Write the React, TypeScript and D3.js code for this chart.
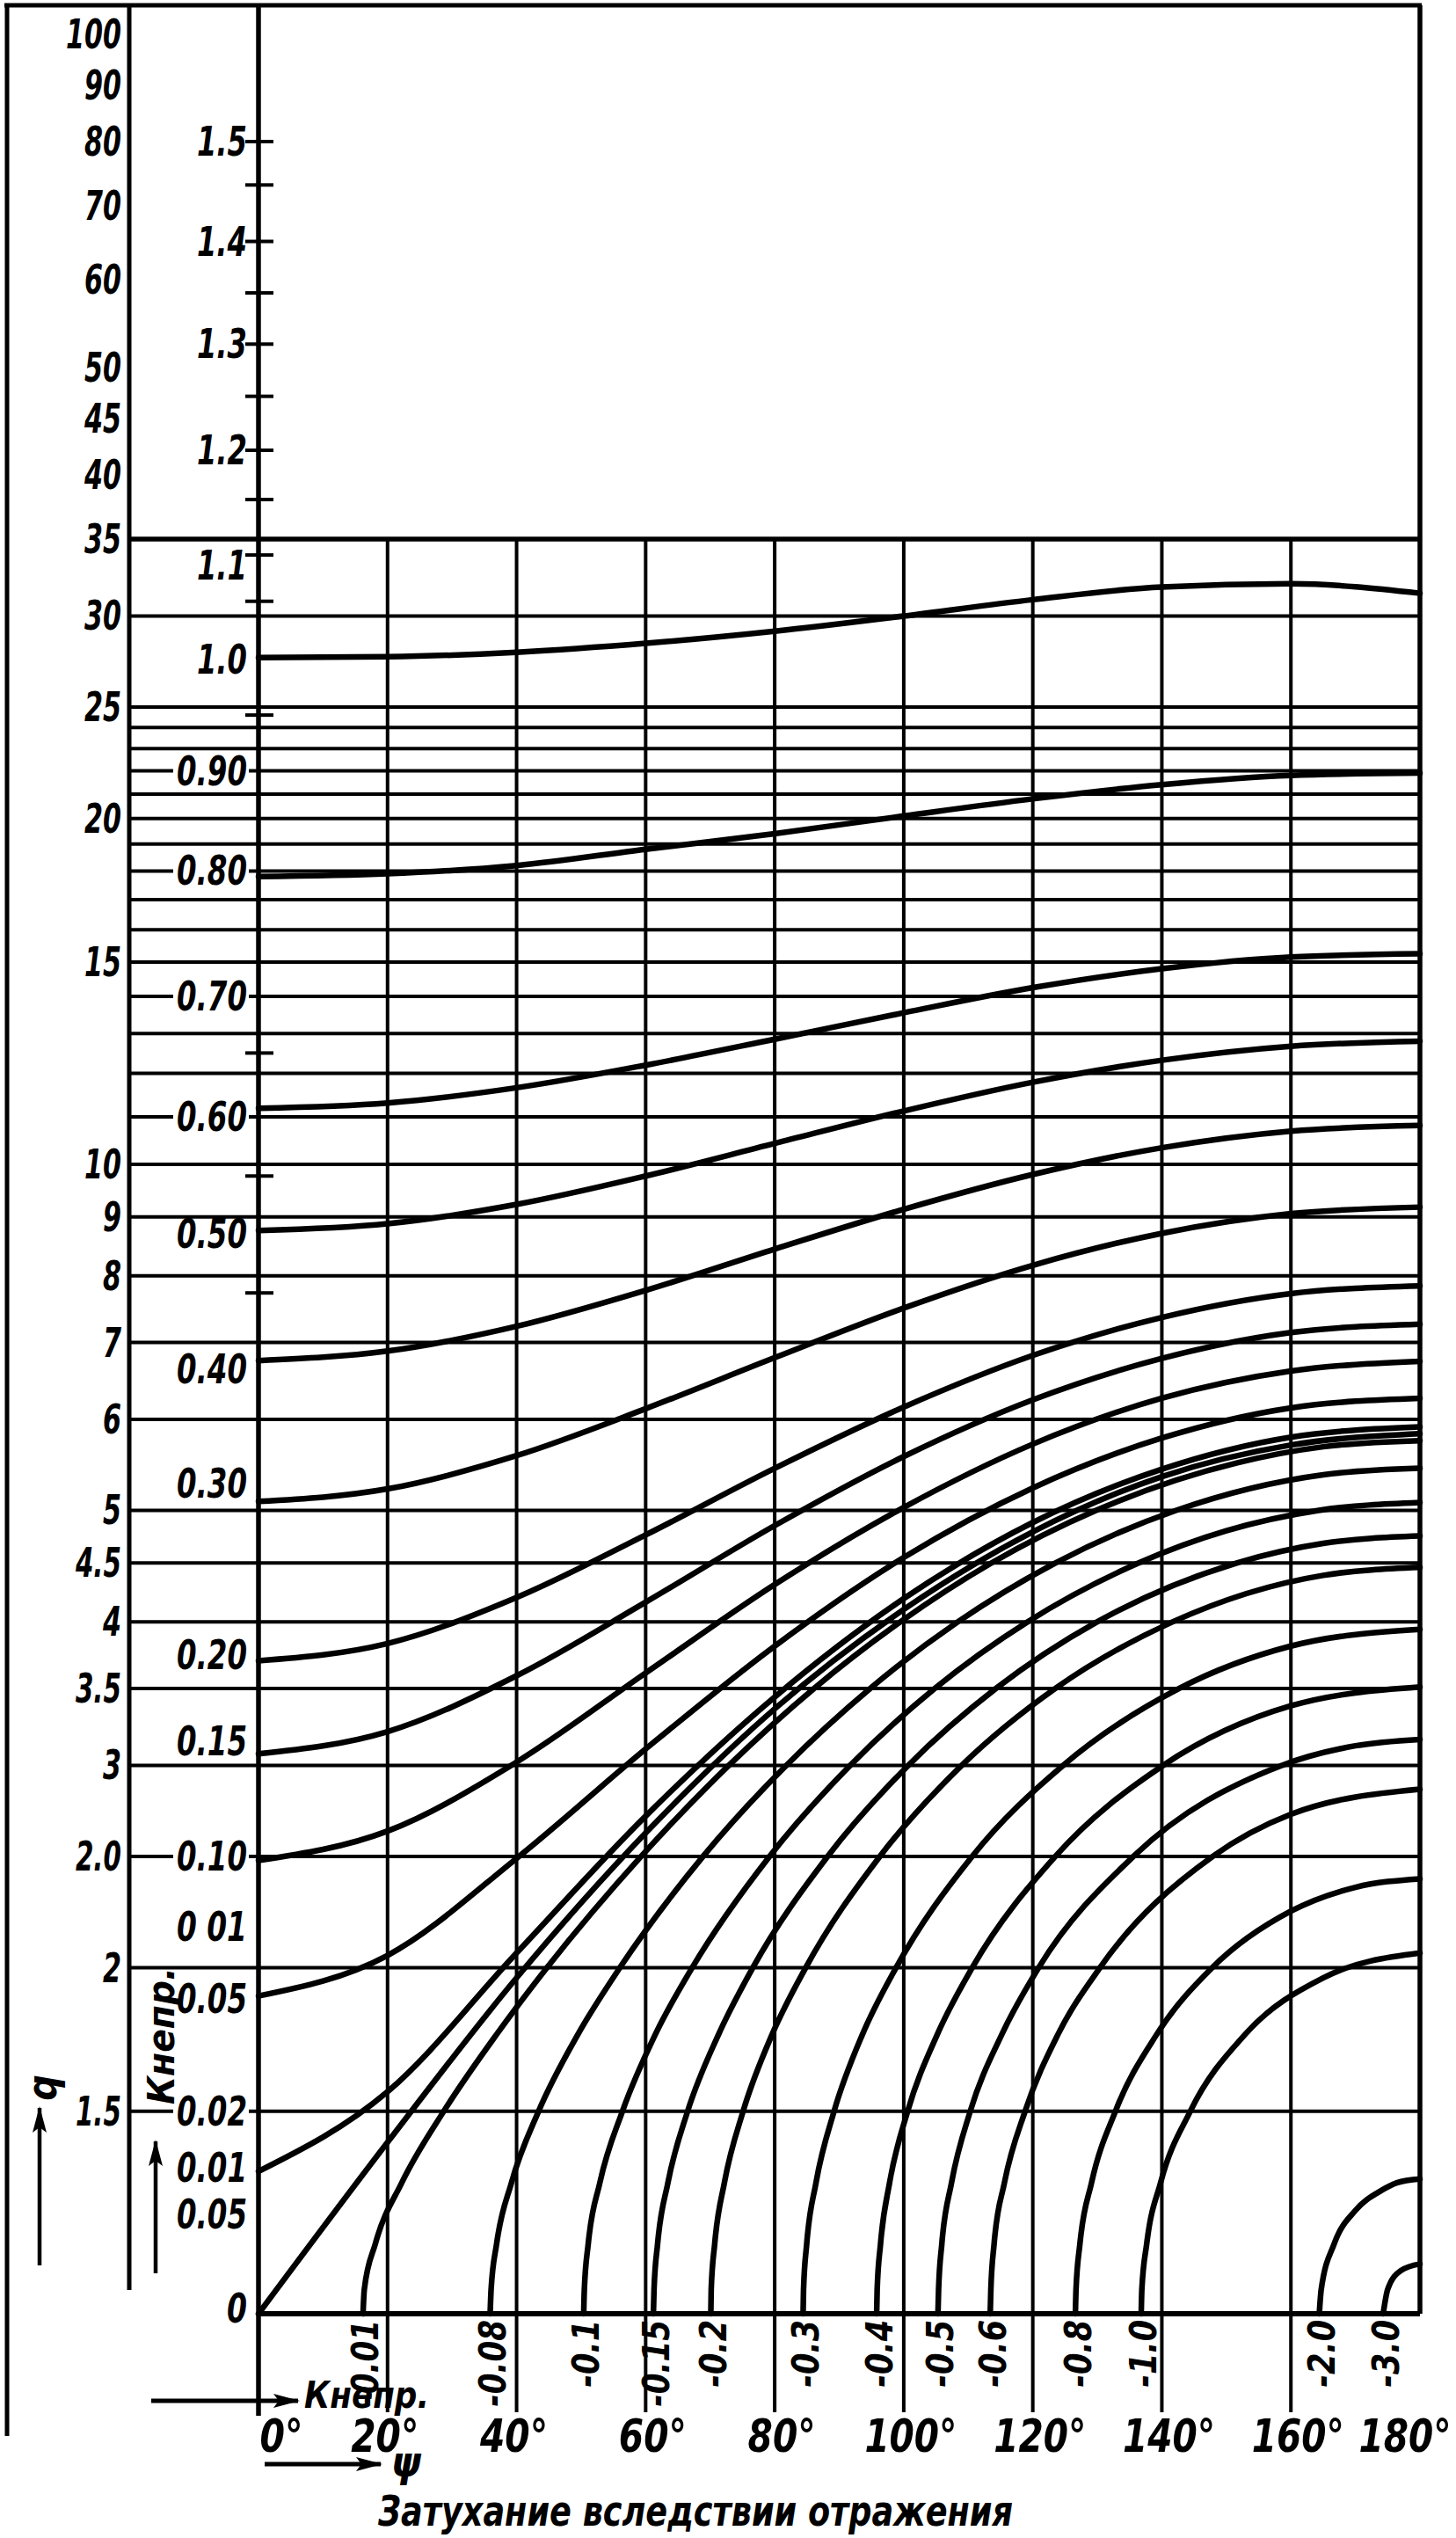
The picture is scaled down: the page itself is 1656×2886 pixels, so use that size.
import * as d3 from "d3";

const W = 1656;
const H = 2886;
const FONT = "'Liberation Sans Narrow', 'DejaVu Sans Condensed', 'Liberation Sans', sans-serif";

// q scale (left, logarithmic)
const qTicks = [100, 90, 80, 70, 60, 50, 45, 40, 35, 30, 25, 20, 15, 10, 9, 8, 7, 6, 5, 4.5, 4, 3.5, 3, 2.5, 2, 1.5];
const qTickLabels = ["100", "90", "80", "70", "60", "50", "45", "40", "35", "30", "25", "20", "15", "10", "9", "8", "7", "6", "5", "4.5", "4", "3.5", "3", "2.0", "2", "1.5"];

// horizontal rulings of the grid (q values)
const gridQ = [35, 30, 25, 24, 23, 22, 21, 20, 19, 18, 17, 16, 15, 14, 13, 12, 11, 10, 9, 8, 7, 6, 5, 4.5, 4, 3.5, 3, 2.5, 2, 1.5];

// phase angle
const phiTicks = [0, 20, 40, 60, 80, 100, 120, 140, 160, 180];

// K непр. scale, written as the q where each mark sits
const kTickQ = [80, 73.1, 65, 58.4, 52.5, 47.1, 42.1, 38, 33.9, 30.9, 24.6, 12.5, 9.77, 7.73];
const kLabels = ["1.5", "1.4", "1.3", "1.2", "1.1", "1.0", "0.90", "0.80", "0.70", "0.60", "0.50", "0.40", "0.30", "0.20", "0.15", "0.10", "0 01", "0.05", "0.02", "0.01", "0.05", "0"];
const kLabelQ = [80, 65, 52.5, 42.1, 33.2, 27.5, 22, 18, 14, 11, 8.7, 6.63, 5.28, 3.74, 3.15, 2.5, 2.17, 1.88, 1.5, 1.34, 1.22, 1.01];

// curves that start on the K axis: q read at every 20°
const q_1_00 = [27.6, 27.65, 27.9, 28.4, 29.1, 30.0, 31.0, 31.8, 32.0, 31.4];
const q_0_80 = [17.8, 17.9, 18.2, 18.8, 19.4, 20.1, 20.8, 21.4, 21.8, 21.9];
const q_0_60 = [11.19, 11.31, 11.66, 12.2, 12.85, 13.55, 14.25, 14.8, 15.15, 15.25];
const q_0_50 = [8.76, 8.88, 9.23, 9.77, 10.43, 11.13, 11.79, 12.32, 12.67, 12.8];
const q_0_40 = [6.75, 6.88, 7.23, 7.77, 8.44, 9.14, 9.8, 10.34, 10.69, 10.81];
const q_0_30 = [5.09, 5.22, 5.58, 6.13, 6.79, 7.5, 8.17, 8.71, 9.06, 9.18];
const q_0_20 = [3.7, 3.83, 4.2, 4.76, 5.44, 6.15, 6.82, 7.36, 7.72, 7.84];
const q_0_15 = [3.07, 3.21, 3.59, 4.16, 4.85, 5.57, 6.24, 6.78, 7.14, 7.26];
const q_0_10 = [2.48, 2.63, 3.02, 3.61, 4.31, 5.03, 5.71, 6.26, 6.61, 6.74];
const q_0_05 = [1.89, 2.05, 2.49, 3.1, 3.81, 4.55, 5.23, 5.78, 6.14, 6.26];
const q_0_01 = [1.33, 1.56, 2.06, 2.71, 3.44, 4.19, 4.88, 5.43, 5.79, 5.91];
const q_0_00 = [1, 1.41, 1.96, 2.62, 3.36, 4.1, 4.79, 5.35, 5.7, 5.83];
const posSeries = [q_1_00, q_0_80, q_0_60, q_0_50, q_0_40, q_0_30, q_0_20, q_0_15, q_0_10, q_0_05, q_0_01, q_0_00];

// curves that rise from the bottom line: [phi, q]
const n_0_01: [number, number][] = [[16.2, 1], [16.4, 1.05], [18.1, 1.15], [22.2, 1.3], [28.7, 1.5], [36.9, 1.75], [44.7, 2], [59.3, 2.5], [72.9, 3], [86.1, 3.5], [99.5, 4], [113.6, 4.5], [129.8, 5], [151.7, 5.5], [165, 5.68], [180, 5.75]];
const n_0_05: [number, number][] = [[35.9, 1], [36.05, 1.05], [36.9, 1.15], [39.2, 1.3], [43.4, 1.5], [49.5, 1.75], [56.0, 2], [68.9, 2.5], [81.8, 3], [94.8, 3.5], [108.4, 4], [123.5, 4.5], [142.2, 5], [165, 5.37], [180, 5.44]];
const n_0_10: [number, number][] = [[50.4, 1], [50.5, 1.05], [51.1, 1.15], [52.9, 1.3], [56.4, 1.5], [61.5, 1.75], [67.2, 2], [79.2, 2.5], [91.7, 3], [104.8, 3.5], [119.2, 4], [136.4, 4.5], [150, 4.8], [164.3, 5], [180, 5.08]];
const n_0_15: [number, number][] = [[61.2, 1], [61.3, 1.05], [61.85, 1.15], [63.45, 1.3], [66.5, 1.5], [71.3, 1.75], [76.6, 2], [88.2, 2.5], [100.7, 3], [114.3, 3.5], [130.0, 4], [151.6, 4.5], [165, 4.68], [180, 4.75]];
const n_0_20: [number, number][] = [[70.1, 1], [70.16, 1.05], [70.7, 1.15], [72.2, 1.3], [75.1, 1.5], [79.6, 1.75], [84.8, 2], [96.3, 2.5], [109.0, 3], [123.5, 3.5], [141.7, 4], [165, 4.39], [180, 4.46]];
const n_0_30: [number, number][] = [[84.4, 1], [84.47, 1.05], [84.96, 1.15], [86.4, 1.3], [89.2, 1.5], [93.6, 1.75], [98.8, 2], [110.6, 2.5], [124.7, 3], [142.7, 3.5], [160, 3.81], [180, 3.94]];
const n_0_40: [number, number][] = [[95.8, 1], [95.88, 1.05], [96.4, 1.15], [97.8, 1.3], [100.6, 1.5], [105.2, 1.75], [110.6, 2], [123.5, 2.5], [140.2, 3], [160, 3.38], [180, 3.51]];
const n_0_50: [number, number][] = [[105.3, 1], [105.4, 1.05], [105.9, 1.15], [107.4, 1.3], [110.3, 1.5], [115.2, 1.75], [120.9, 2], [135.6, 2.5], [158.6, 3], [170, 3.12], [180, 3.16]];
const n_0_60: [number, number][] = [[113.4, 1], [113.5, 1.05], [114.0, 1.15], [115.6, 1.3], [118.8, 1.5], [123.9, 1.75], [130.4, 2], [147.9, 2.5], [160, 2.72], [180, 2.86]];
const n_0_80: [number, number][] = [[126.6, 1], [126.7, 1.05], [127.3, 1.15], [129.1, 1.3], [132.8, 1.5], [139.2, 1.75], [147.8, 2], [160, 2.24], [170, 2.35], [180, 2.39]];
const n_1_0: [number, number][] = [[136.8, 1], [136.9, 1.05], [137.65, 1.15], [139.8, 1.3], [144.4, 1.5], [152.9, 1.75], [165, 1.96], [180, 2.06]];
const n_2_0: [number, number][] = [[164.4, 1], [164.7, 1.05], [166.7, 1.15], [170, 1.23], [174, 1.28], [176.4, 1.3], [180, 1.31]];
const n_3_0: [number, number][] = [[174.3, 1], [175.0, 1.05], [177, 1.09], [180, 1.105]];
const negSeries = [n_0_01, n_0_05, n_0_10, n_0_15, n_0_20, n_0_30, n_0_40, n_0_50, n_0_60, n_0_80, n_1_0, n_2_0, n_3_0];
const negLabels = ["-0.01", "-0.08", "-0.1", "-0.15", "-0.2", "-0.3", "-0.4", "-0.5", "-0.6", "-0.8", "-1.0", "-2.0", "-3.0"];

const title = "Затухание вследствии отражения";

// rough width of the hand-lettered figures
function figW(s: string, digit = 21) {
  let w = 0;
  for (const c of s) w += /[0-9]/.test(c) ? digit : c === "-" ? 22 : c === "°" ? digit * 0.75 : digit * 0.48;
  return w;
}

export default function App() {
  const x = d3.scaleLinear().domain([0, 180]).range([294, 1615]);
  const y = d3.scaleLog().domain([1, 35, 100]).range([2631, 613, 39]);
  const line = d3
    .line<[number, number]>()
    .x((d) => x(d[0]))
    .y((d) => y(d[1]))
    .curve(d3.curveMonotoneX);

  const txt = { fontFamily: FONT, fontStyle: "italic", fontWeight: 700, fill: "#000" } as const;
  const gridSet = new Set(gridQ);
  const GRID = 4;
  const CURVE = 6.5;

  return (
    <svg
      width={W}
      height={H}
      viewBox={`0 0 ${W} ${H}`}
      style={{ position: "absolute", left: 0, top: 0, background: "#fff" }}
    >
      <defs>
        <marker id="arr" viewBox="0 0 30 16" refX="28" refY="8" markerWidth="30" markerHeight="16" markerUnits="userSpaceOnUse" orient="auto">
          <path d="M0,0 L30,8 L0,16 L6,8 Z" fill="#000" />
        </marker>
      </defs>
      <rect width={W} height={H} fill="#fff" />

      {/* frame */}
      <line x1={5} x2={x(180) + 2} y1={6} y2={6} stroke="#000" strokeWidth={5} />
      <line x1={8} x2={8} y1={6} y2={2770} stroke="#000" strokeWidth={5} />
      <line x1={147} x2={147} y1={6} y2={2604} stroke="#000" strokeWidth={5} />
      <line x1={x(180)} x2={x(180)} y1={6} y2={y(1)} stroke="#000" strokeWidth={5.5} />

      {/* horizontal rulings */}
      {gridQ.map((q) => (
        <line key={"h" + q} x1={147} x2={x(180)} y1={y(q)} y2={y(q)} stroke="#000" strokeWidth={q === 35 ? 5.5 : GRID} />
      ))}
      <line x1={x(0)} x2={x(180)} y1={y(1)} y2={y(1)} stroke="#000" strokeWidth={6} />

      {/* vertical rulings */}
      {phiTicks.slice(1, -1).map((p) => (
        <line key={"v" + p} x1={x(p)} x2={x(p)} y1={y(35)} y2={2743} stroke="#000" strokeWidth={GRID} />
      ))}
      <line x1={x(0)} x2={x(0)} y1={6} y2={2747} stroke="#000" strokeWidth={5.5} />

      {/* K axis ticks */}
      {kTickQ.map((q) => (
        <line key={"kt" + q} x1={279} x2={311} y1={y(q)} y2={y(q)} stroke="#000" strokeWidth={4} />
      ))}

      {/* curves */}
      {posSeries.map((s, i) => (
        <path
          key={"p" + i}
          d={line(s.map((q, j) => [phiTicks[j], q] as [number, number])) ?? ""}
          fill="none"
          stroke="#000"
          strokeWidth={CURVE}
          strokeLinecap="round"
        />
      ))}
      {negSeries.map((s, i) => (
        <path key={"n" + i} d={line(s) ?? ""} fill="none" stroke="#000" strokeWidth={CURVE} strokeLinecap="round" />
      ))}

      {/* q labels */}
      {qTicks.map((q, i) => (
        <text
          key={"ql" + i}
          x={138}
          y={y(q)}
          textAnchor="end"
          dominantBaseline="central"
          fontSize={46}
          textLength={figW(qTickLabels[i])}
          lengthAdjust="spacingAndGlyphs"
          {...txt}
        >
          {qTickLabels[i]}
        </text>
      ))}

      {/* K labels (those sitting on a ruling interrupt it) */}
      {kLabels.map((t, i) => {
        const w = figW(t, 23);
        const cut = gridSet.has(kLabelQ[i]);
        return (
          <g key={"kl" + i}>
            {cut && <rect x={281 - w - 4} y={y(kLabelQ[i]) - 5} width={w + 6} height={10} fill="#fff" />}
            <text
              x={281}
              y={y(kLabelQ[i])}
              textAnchor="end"
              dominantBaseline="central"
              fontSize={46}
              textLength={w}
              lengthAdjust="spacingAndGlyphs"
              {...txt}
            >
              {t}
            </text>
          </g>
        );
      })}

      {/* labels of the rising curves */}
      {negSeries.map((s, i) => (
        <text
          key={"nl" + i}
          transform={`translate(${x(s[0][0]) + 3},2638) rotate(-90)`}
          textAnchor="end"
          dominantBaseline="central"
          fontSize={42}
          textLength={figW(negLabels[i], 22)}
          lengthAdjust="spacingAndGlyphs"
          {...txt}
        >
          {negLabels[i]}
        </text>
      ))}

      {/* phi labels */}
      {phiTicks.map((p) => (
        <text
          key={"pl" + p}
          x={x(p) + (p === 0 ? 26 : p === 180 ? -17 : p < 60 ? -3 : 8)}
          y={2788}
          textAnchor="middle"
          fontSize={52}
          textLength={figW(p + "°", 28)}
          lengthAdjust="spacingAndGlyphs"
          {...txt}
        >
          {p}°
        </text>
      ))}

      {/* axis names and arrows */}
      <line x1={172} x2={339} y1={2730} y2={2730} stroke="#000" strokeWidth={5} markerEnd="url(#arr)" />
      <text x={346} y={2738} fontSize={42} textLength={142} lengthAdjust="spacingAndGlyphs" {...txt}>
        Кнепр.
      </text>
      <line x1={301} x2={433} y1={2802} y2={2802} stroke="#000" strokeWidth={5} markerEnd="url(#arr)" />
      <text x={462} y={2816} textAnchor="middle" fontSize={48} {...txt}>
        ψ
      </text>
      <text x={430} y={2872} fontSize={48} textLength={722} lengthAdjust="spacingAndGlyphs" {...txt}>
        {title}
      </text>

      <line x1={45} x2={45} y1={2576} y2={2397} stroke="#000" strokeWidth={4.5} markerEnd="url(#arr)" />
      <text transform="translate(48,2374) rotate(-90)" textAnchor="middle" dominantBaseline="central" fontSize={46} {...txt}>
        q
      </text>
      <line x1={177} x2={177} y1={2585} y2={2435} stroke="#000" strokeWidth={4.5} markerEnd="url(#arr)" />
      <text
        transform="translate(183,2393) rotate(-90)"
        textAnchor="start"
        dominantBaseline="central"
        fontSize={42}
        textLength={156}
        lengthAdjust="spacingAndGlyphs"
        {...txt}
      >
        Кнепр.
      </text>
    </svg>
  );
}
